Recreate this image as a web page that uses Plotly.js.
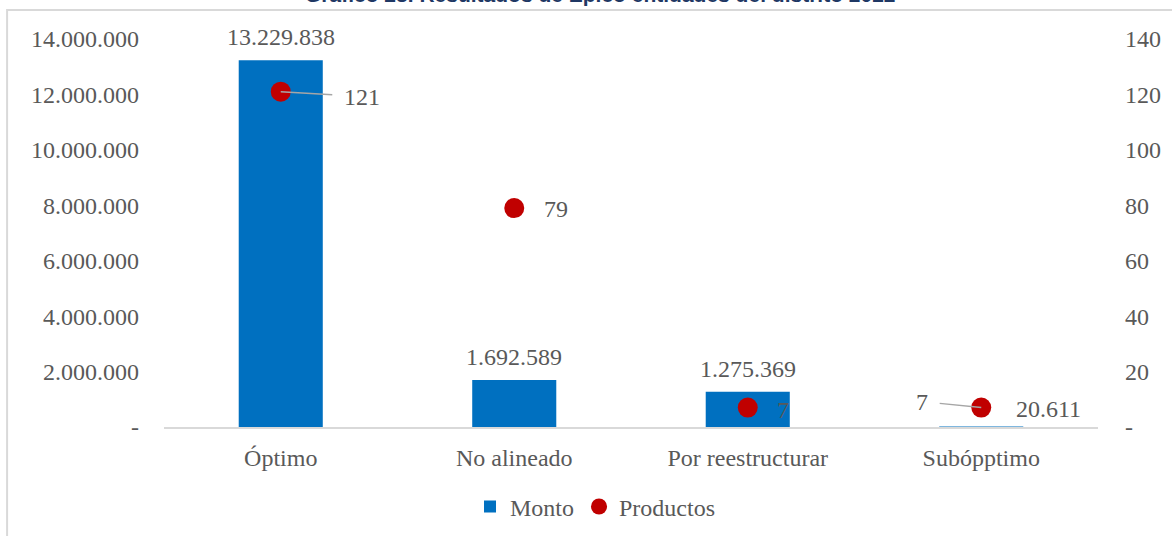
<!DOCTYPE html>
<html>
<head>
<meta charset="utf-8">
<script src="https://cdn.plot.ly/plotly-3.0.1.min.js"></script>
<style>
  html, body { margin: 0; padding: 0; background: #ffffff; }
  #chart { width: 1172px; height: 536px; }
</style>
</head>
<body>
<div id="chart"></div>
<script>
// ---- Data ----
const titleText = 'Gráfico 23. Resultados de Epico entidades del distrito 2022';
const categories = ['Óptimo', 'No alineado', 'Por reestructurar', 'Subópptimo'];
const monto = [13229838, 1692589, 1275369, 20611];
const productos = [121, 79, 7, 7];
const leftTickVals = [0, 2000000, 4000000, 6000000, 8000000, 10000000, 12000000, 14000000];
const rightTickVals = [0, 20, 40, 60, 80, 100, 120, 140];

// ---- Helpers ----
function fmt(v) {
  if (v === 0) return '-';
  return String(v).replace(/\B(?=(\d{3})+(?!\d))/g, '.');
}

const textColor = '#595959';
const serif = 'Liberation Serif, Times New Roman, serif';
const fs = 24;

// label placement (pixel offsets) – style only
const montoLabelOffset = [[0, 23], [0, 23], [0, 23], [67, 17]];
const prodLabelStyle = [
  {arrow: true, ax: 81, ay: 5},
  {arrow: false, xshift: 42, yshift: -1},
  {arrow: false, xshift: 35, yshift: -2},
  {arrow: true, ax: -59, ay: -6}
];

const annotations = [];
categories.forEach((c, i) => {
  annotations.push({
    x: c, y: monto[i], xref: 'x', yref: 'y',
    text: fmt(monto[i]), showarrow: false,
    xanchor: 'center', yanchor: 'middle',
    xshift: montoLabelOffset[i][0], yshift: montoLabelOffset[i][1],
    font: {family: serif, size: fs, color: textColor}
  });
  const s = prodLabelStyle[i];
  if (s.arrow) {
    annotations.push({
      x: c, y: productos[i], xref: 'x', yref: 'y2',
      text: fmt(productos[i]), showarrow: true,
      arrowhead: 0, arrowwidth: 1.5, arrowcolor: '#A6A6A6',
      ax: s.ax, ay: s.ay, startstandoff: 10,
      font: {family: serif, size: fs, color: textColor}
    });
  } else {
    annotations.push({
      x: c, y: productos[i], xref: 'x', yref: 'y2',
      text: fmt(productos[i]), showarrow: false,
      xanchor: 'center', yanchor: 'middle',
      xshift: s.xshift, yshift: s.yshift,
      font: {family: serif, size: fs, color: textColor}
    });
  }
});

// title (partially clipped at top, as in the reference)
annotations.push({
  x: 0.467, y: 1.081, xref: 'paper', yref: 'paper',
  xanchor: 'center', yanchor: 'bottom', showarrow: false,
  text: '<b>' + titleText + '</b>',
  font: {family: 'Liberation Sans, Arial, sans-serif', size: 21, color: '#1F3864'}
});

const traces = [
  {
    type: 'bar', name: 'Monto', x: categories, y: monto,
    marker: {color: '#0070C0'}, yaxis: 'y', hoverinfo: 'x+y'
  },
  {
    type: 'scatter', mode: 'markers', name: 'Productos', x: categories, y: productos,
    marker: {color: '#C00000', size: 20}, yaxis: 'y2', cliponaxis: false
  }
];

const layout = {
  width: 1172, height: 536,
  margin: {l: 164, r: 74, t: 39, b: 109, autoexpand: false},
  paper_bgcolor: '#ffffff', plot_bgcolor: '#ffffff',
  font: {family: serif, size: fs, color: textColor},
  bargap: 0.64,
  showlegend: true,
  legend: {
    orientation: 'h', x: 0.462, xanchor: 'center', y: -0.206, yanchor: 'middle',
    font: {family: serif, size: fs, color: textColor},
    itemwidth: 30, traceorder: 'normal'
  },
  xaxis: {
    type: 'category', showgrid: false, zeroline: false,
    showline: true, linecolor: '#D9D9D9', linewidth: 2,
    ticks: '', ticklabelstandoff: 8,
    tickfont: {family: serif, size: fs, color: textColor}
  },
  yaxis: {
    range: [0, 14000000], showgrid: false, zeroline: false, showline: false,
    tickvals: leftTickVals, ticktext: leftTickVals.map(fmt),
    ticks: '', ticklabelstandoff: 24,
    tickfont: {family: serif, size: fs, color: textColor}
  },
  yaxis2: {
    range: [0, 140], overlaying: 'y', side: 'right',
    showgrid: false, zeroline: false, showline: false,
    tickvals: rightTickVals, ticktext: rightTickVals.map(fmt),
    ticks: '', ticklabelstandoff: 26,
    tickfont: {family: serif, size: fs, color: textColor}
  },
  shapes: [{
    type: 'rect', xref: 'paper', yref: 'paper',
    x0: -0.168, x1: 1.3, y0: -0.5, y1: 1.0747,
    line: {color: '#D9D9D9', width: 2}, fillcolor: 'rgba(0,0,0,0)', layer: 'below'
  }],
  annotations: annotations
};

Plotly.newPlot('chart', traces, layout, {displayModeBar: false, staticPlot: true});
</script>
</body>
</html>
